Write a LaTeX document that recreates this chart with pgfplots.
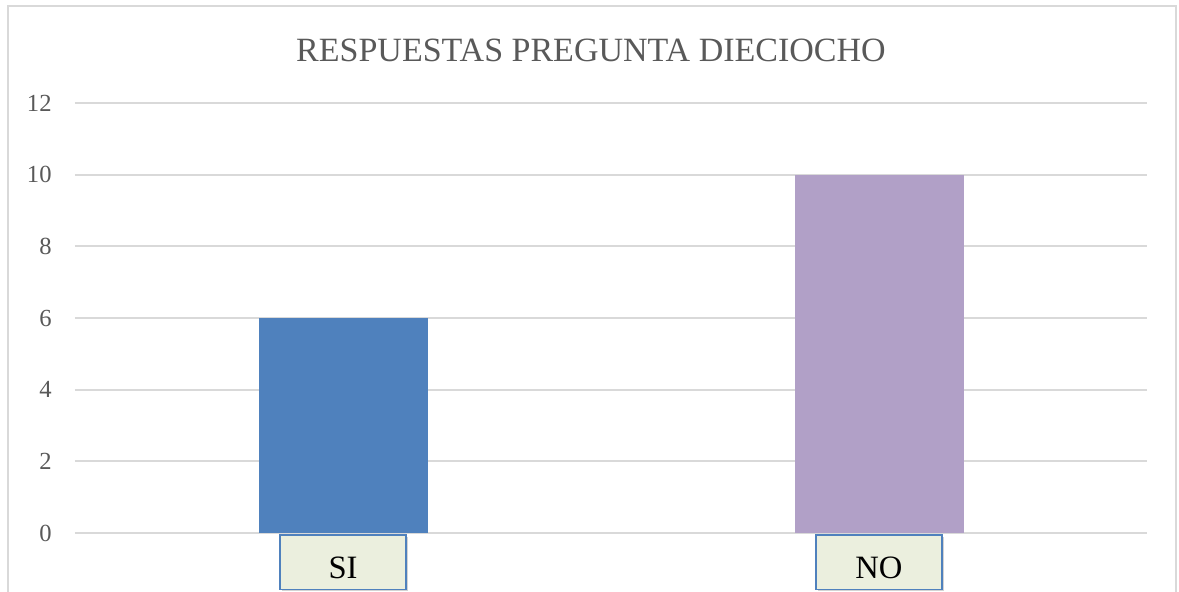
\documentclass[border=0pt]{standalone}
\usepackage{fontspec}
\setmainfont{Liberation Serif}
\usepackage{pgfplots}
\pgfplotsset{compat=1.18}
\usetikzlibrary{shadows}
\definecolor{siblue}{HTML}{4F81BD}
\definecolor{nopurple}{HTML}{B1A0C7}
\definecolor{gridgray}{HTML}{D9D9D9}
\definecolor{txtgray}{HTML}{595959}
\definecolor{boxfill}{HTML}{EBEFDE}
\definecolor{boxedge}{HTML}{4F81BD}
\begin{document}
\begin{tikzpicture}
\useasboundingbox (0,0) rectangle (589.5pt,296pt);
\draw[gridgray, line width=1pt] (4pt,0pt) -- (4pt,293pt) -- (588pt,293pt) -- (588pt,0pt);
\node[anchor=base, text=txtgray, font=\fontsize{17pt}{20pt}\selectfont] at (295.5pt,265pt) {RESPUESTAS PREGUNTA DIECIOCHO};
\begin{axis}[
  at={(37.5pt,29.5pt)}, anchor=south west,
  scale only axis, width=536pt, height=215pt,
  xmin=-0.5, xmax=1.5, ymin=0, ymax=12,
  ytick={0,2,...,12},
  xtick={0,1}, xticklabels={SI,NO},
  axis line style={draw=none},
  major tick length=0pt,
  ymajorgrids, grid style={gridgray, line width=0.9pt},
  /pgf/number format/assume math mode=true,
  yticklabel style={font=\fontsize{12.3pt}{14pt}\selectfont, text=txtgray, inner sep=0pt, anchor=east, xshift=-11.5pt},
  xticklabel style={font=\fontsize{16.3pt}{18pt}\selectfont, text=black, anchor=north, yshift=-0.5pt,
    draw=boxedge, line width=0.9pt, fill=boxfill, text width=63pt, align=center,
    inner xsep=0pt, inner ysep=5.5pt, text height=16.3pt, text depth=0pt,
    drop shadow={shadow xshift=1pt, shadow yshift=-1pt, opacity=0.35}},
  ybar, bar width=84.5pt, bar shift=0pt,
  clip=false,
]
\addplot[fill=siblue, draw=none] coordinates {(0,6)};
\addplot[fill=nopurple, draw=none] coordinates {(1,10)};
\end{axis}
\end{tikzpicture}
\end{document}
